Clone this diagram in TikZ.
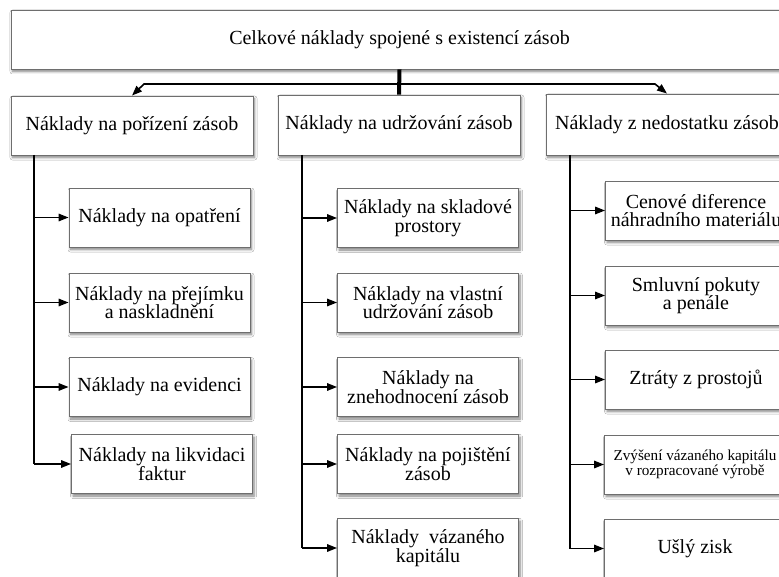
\documentclass[tikz,border=0pt]{standalone}
\usepackage{fontspec}
\setmainfont{Liberation Serif}
\usetikzlibrary{arrows.meta,shadows.blur}
\definecolor{boxline}{HTML}{6E6E6E}
\tikzset{
  box/.style={draw=boxline, line width=0.9pt, fill=white, align=center,
    inner xsep=1pt, inner ysep=0pt,
    font=\fontsize{20}{18.5}\selectfont,
    blur shadow={shadow xshift=1.5pt, shadow yshift=-2.5pt,
      shadow blur steps=6, shadow blur radius=2.5pt, shadow opacity=50}},
  leaf/.style={box, minimum width=181pt, minimum height=59pt},
  link/.style={line width=1.6pt, -{Triangle[length=10pt,width=7.5pt]}},
  spine/.style={line width=1.9pt},
  trunk/.style={line width=4pt},
}
\begin{document}
\begin{tikzpicture}[x=1pt, y=-1pt]
\useasboundingbox[fill=white] (0,0) rectangle (779,577);

% top level
\node[box, minimum width=777pt, minimum height=59pt] (top) at (399.5,39.5)
  {Celkové náklady spojené s existencí zásob};

% second level
\node[box, minimum width=242pt, minimum height=59pt] (A) at (132,125.5) {Náklady na pořízení zásob};
\node[box, minimum width=242pt, minimum height=60pt] (B) at (399,125) {Náklady na udržování zásob};
\node[box, minimum width=242pt, minimum height=61pt] (C) at (667,124.5) {Náklady z nedostatku zásob};

% trunk and branches from the top box
\coordinate (jn) at (399.5,84);
\draw[trunk] (top.south) -- (B.north);
\draw[link] (jn) -- ([xshift=12pt]A.north |- jn) -- (A.north);
\draw[link] (jn) -- ([xshift=-12pt]C.north |- jn) -- (C.north);

% acquisition costs
\node[leaf] (a1) at (159.5,217.5) {Náklady na opatření};
\node[leaf] (a2) at (159.5,302.5) {Náklady na přejímku\\a naskladnění};
\node[leaf] (a3) at (159.5,387) {Náklady na evidenci};
\node[leaf] (a4) at (162,464) {Náklady na likvidaci\\faktur};

% holding costs
\node[leaf] (b1) at (428,218) {Náklady na skladové\\prostory};
\node[leaf] (b2) at (428,302.5) {Náklady na vlastní\\udržování zásob};
\node[leaf] (b3) at (428,387) {Náklady na\\znehodnocení zásob};
\node[leaf] (b4) at (428,464) {Náklady na pojištění\\zásob};
\node[leaf] (b5) at (428,548) {Náklady~ vázaného\\kapitálu};

% shortage costs
\node[leaf] (c1) at (696,210.5) {Cenové diference\\náhradního materiálu};
\node[leaf] (c2) at (696,295.5) {Smluvní pokuty\\a penále};
\node[leaf] (c3) at (696,379.5) {Ztráty z prostojů};
\node[leaf, font=\fontsize{15.2}{15}\selectfont] (c4) at (695,464.5) {Zvýšení vázaného kapitálu\\v rozpracované výrobě};
\node[leaf] (c5) at (695,548.5) {Ušlý zisk};

% spines
\coordinate (sA) at (34,155);
\coordinate (sB) at (302,155);
\coordinate (sC) at (570,155);
\draw[spine] (sA) -- (sA |- a4.west);
\draw[spine] (sB) -- (sB |- b5.west);
\draw[spine] (sC) -- (sC |- c5.west);
\foreach \n in {a1,a2,a3,a4} \draw[link] (sA |- \n.west) -- (\n.west);
\foreach \n in {b1,b2,b3,b4,b5} \draw[link] (sB |- \n.west) -- (\n.west);
\foreach \n in {c1,c2,c3,c4,c5} \draw[link] (sC |- \n.west) -- (\n.west);
\end{tikzpicture}
\end{document}
